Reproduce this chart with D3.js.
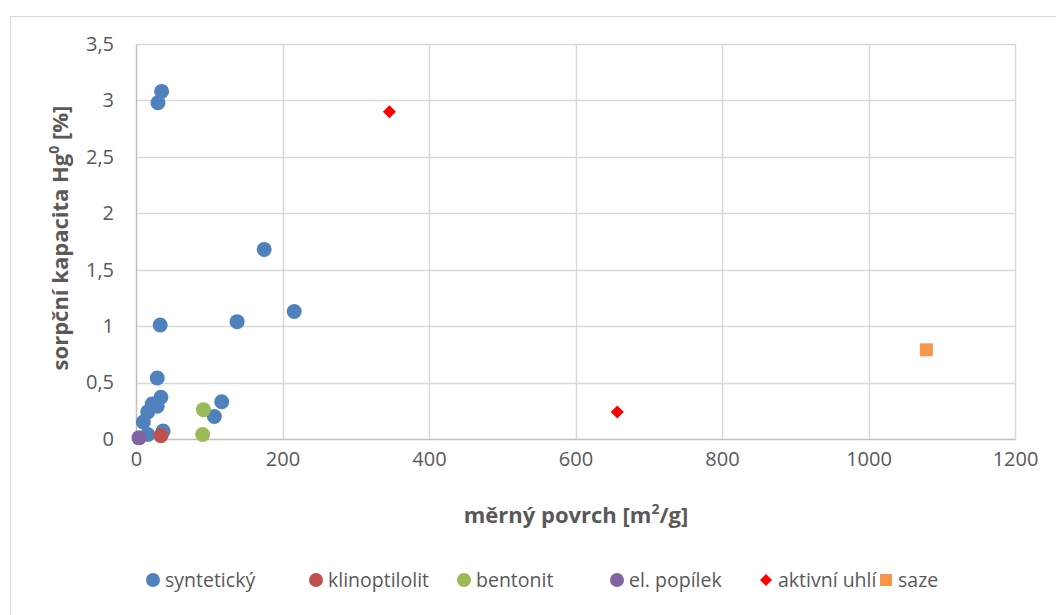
<!DOCTYPE html>
<html>
<head>
<meta charset="utf-8">
<script src="https://cdn.jsdelivr.net/npm/d3@7"></script>
<style>
  body { margin: 0; background: #fff; }
  text { font-family: "Open Sans", sans-serif; }
</style>
</head>
<body>
<svg id="chart" width="1056" height="615"></svg>
<script>
// series names
var seriesNames = ["syntetický", "klinoptilolit", "bentonit", "el. popílek", "aktivní uhlí", "saze"];

// x = měrný povrch [m2/g], y = sorpční kapacita [%]
var syntetickyX = [35, 30, 175, 216, 138, 33, 29, 34, 22, 29, 16, 10, 117, 107, 37, 16];
var syntetickyY = [3.08, 2.98, 1.68, 1.13, 1.04, 1.01, 0.54, 0.37, 0.31, 0.29, 0.24, 0.15, 0.33, 0.20, 0.07, 0.04];
var klinoX = [34];
var klinoY = [0.03];
var bentonitX = [92, 91];
var bentonitY = [0.26, 0.04];
var popilekX = [4];
var popilekY = [0.01];
var uhliX = [346, 657];
var uhliY = [2.90, 0.24];
var sazeX = [1079];
var sazeY = [0.79];

var xTicks = [0, 200, 400, 600, 800, 1000, 1200];
var yTicks = [0, 0.5, 1, 1.5, 2, 2.5, 3, 3.5];

var colors = ["#4F81BD", "#C0504D", "#9BBB59", "#8064A2", "#FF0000", "#F79646"];
var shapes = ["circle", "circle", "circle", "circle", "diamond", "square"];

var seriesXY = [
  [syntetickyX, syntetickyY],
  [klinoX, klinoY],
  [bentonitX, bentonitY],
  [popilekX, popilekY],
  [uhliX, uhliY],
  [sazeX, sazeY]
];

var svg = d3.select("#chart");
var pLeft = 136, pRight = 1015, pTop = 44, pBottom = 439;

var x = d3.scaleLinear().domain([0, 1200]).range([pLeft, pRight]);
var y = d3.scaleLinear().domain([0, 3.5]).range([pBottom, pTop]);

// outer chart border (only left/top visible)
svg.append("rect")
  .attr("x", 10.5).attr("y", 16.5)
  .attr("width", 1060).attr("height", 620)
  .attr("fill", "none").attr("stroke", "#d9d9d9");

// gridlines
svg.append("g")
  .selectAll("line")
  .data(yTicks.slice(1))
  .join("line")
    .attr("x1", pLeft).attr("x2", pRight)
    .attr("y1", d => Math.round(y(d)) + 0.5).attr("y2", d => Math.round(y(d)) + 0.5)
    .attr("stroke", "#d9d9d9").attr("stroke-width", 1.5);
svg.append("g")
  .selectAll("line")
  .data(xTicks.slice(1))
  .join("line")
    .attr("y1", pTop).attr("y2", pBottom)
    .attr("x1", d => Math.round(x(d)) + 0.5).attr("x2", d => Math.round(x(d)) + 0.5)
    .attr("stroke", "#d9d9d9").attr("stroke-width", 1.5);

// axes
var xAxis = d3.axisBottom(x).tickValues(xTicks).tickSize(0).tickPadding(13)
  .tickFormat(d3.format("d"));
var yAxis = d3.axisLeft(y).tickValues(yTicks).tickSize(0).tickPadding(22)
  .tickFormat(d => String(d).replace(".", ","));

var gx = svg.append("g").attr("transform", `translate(0,${pBottom})`).call(xAxis);
var gy = svg.append("g").attr("transform", `translate(${pLeft},0)`).call(yAxis);
[gx, gy].forEach(g => {
  g.select(".domain").attr("stroke", "#bfbfbf").attr("stroke-width", 1.5);
  g.selectAll("text").attr("font-size", 20).attr("fill", "#595959")
    .attr("font-family", "Open Sans, sans-serif");
});

// axis titles
var xt = svg.append("text")
  .attr("x", 576).attr("y", 523)
  .attr("text-anchor", "middle")
  .attr("font-size", 22).attr("font-weight", "bold").attr("fill", "#595959");
xt.append("tspan").text("měrný povrch [m");
xt.append("tspan").attr("baseline-shift", "super").attr("font-size", 14).text("2");
xt.append("tspan").text("/g]");

var yt = svg.append("text")
  .attr("transform", "translate(68,238) rotate(-90)")
  .attr("text-anchor", "middle")
  .attr("font-size", 22).attr("font-weight", "bold").attr("fill", "#595959");
yt.append("tspan").text("sorpční kapacita Hg");
yt.append("tspan").attr("baseline-shift", "super").attr("font-size", 14).text("0");
yt.append("tspan").text(" [%]");

function marker(sel, shape, color, s) {
  if (shape === "circle") {
    sel.append("circle").attr("r", s + 1).attr("fill", color);
  } else if (shape === "diamond") {
    sel.append("path").attr("d", `M0,${-s}L${s},0L0,${s}L${-s},0Z`).attr("fill", color);
  } else {
    sel.append("rect").attr("x", -s).attr("y", -s).attr("width", 2 * s).attr("height", 2 * s).attr("fill", color);
  }
}

// points
seriesXY.forEach((xy, i) => {
  var pts = xy[0].map((v, j) => [v, xy[1][j]]);
  svg.append("g")
    .selectAll("g")
    .data(pts)
    .join("g")
      .attr("transform", d => `translate(${x(d[0])},${y(d[1])})`)
      .each(function() { marker(d3.select(this), shapes[i], colors[i], 6.5); });
});

// legend
var legendX = [153, 316, 464, 617, 766, 886];
var lg = svg.append("g")
  .selectAll("g")
  .data(seriesNames)
  .join("g")
    .attr("transform", (d, i) => `translate(${legendX[i]},580)`);
lg.each(function(d, i) {
  marker(d3.select(this), shapes[i], colors[i], 6);
});
lg.append("text")
  .attr("x", 12).attr("y", 7)
  .attr("font-size", 19.5).attr("fill", "#595959")
  .text(d => d);
</script>
</body>
</html>
